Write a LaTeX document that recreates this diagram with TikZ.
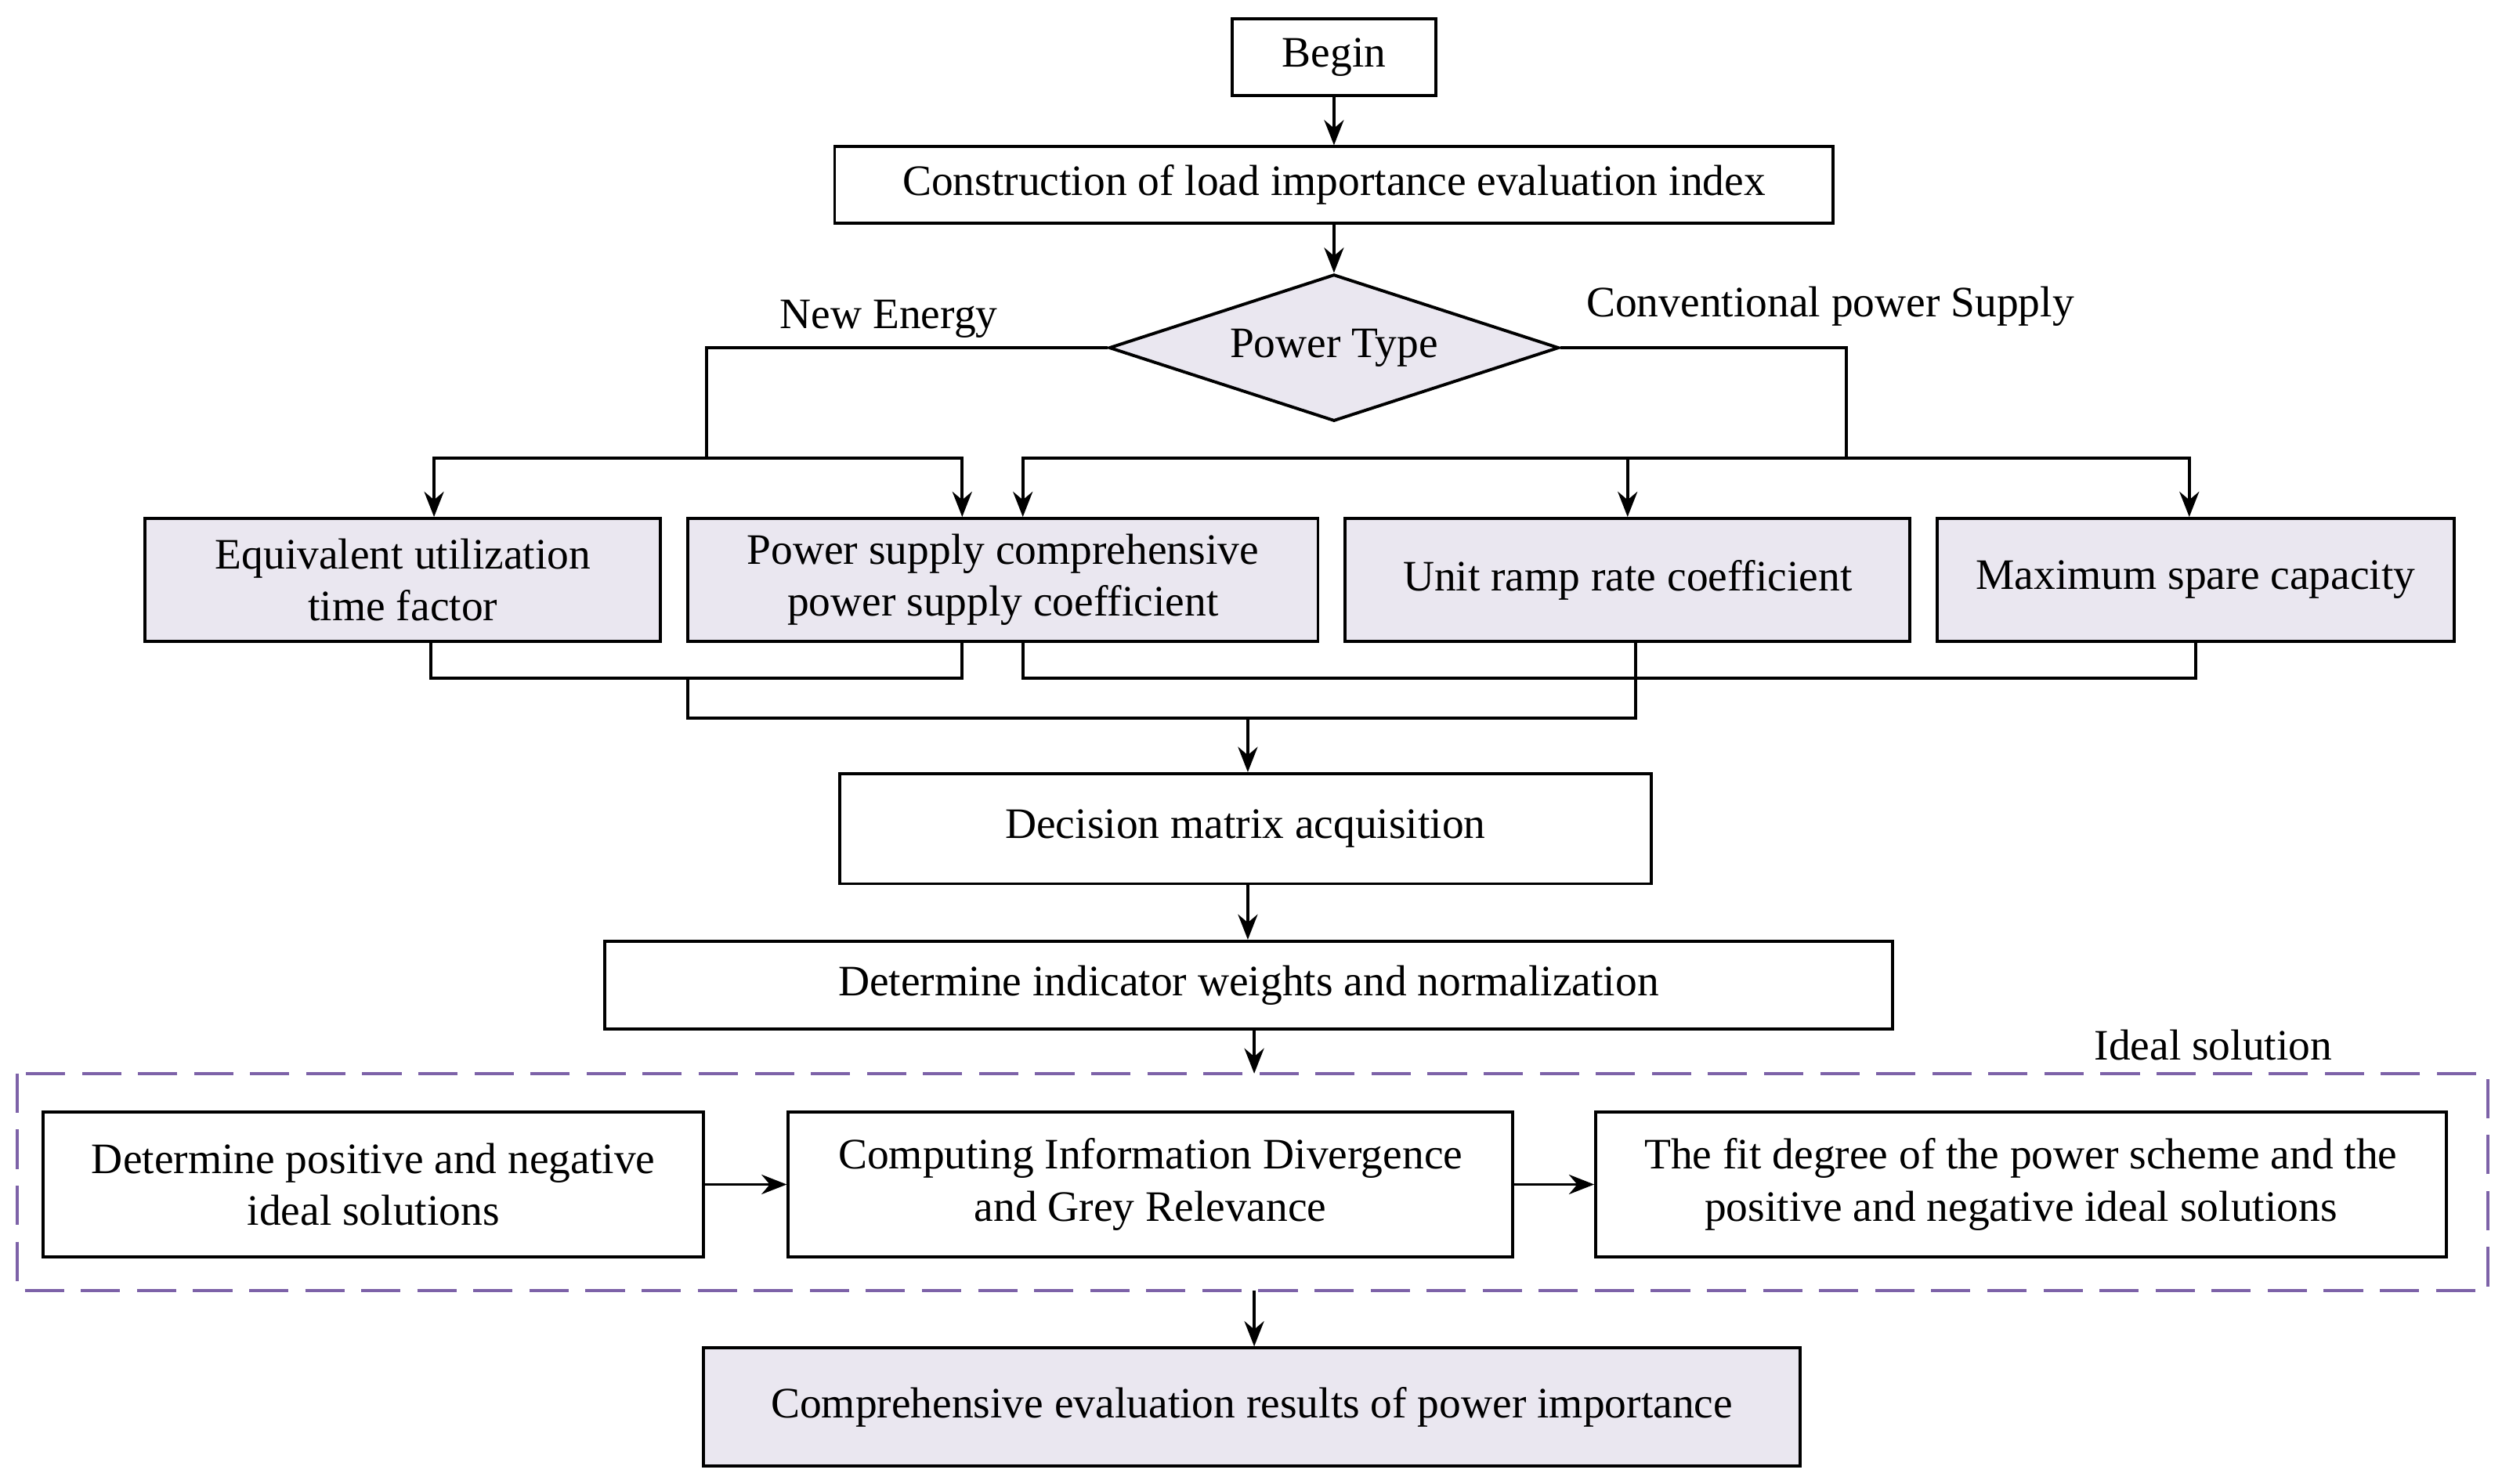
\documentclass[tikz,border=0pt]{standalone}
\usepackage{fontspec}
\setmainfont{Liberation Serif}
\usetikzlibrary{shapes.geometric,arrows.meta}
\definecolor{lav}{HTML}{EAE7F0}
\definecolor{dashpurple}{HTML}{7D62A8}

\begin{document}
\begin{tikzpicture}[x=0.02cm,y=-0.02cm,line width=1.1pt,
    box/.style={draw,inner sep=0pt,align=center,font=\fontsize{15.5}{18.5}\selectfont},
    shade/.style={box,fill=lav},
    stream/.style={-{Stealth[length=9pt,width=7pt]}},
    lbl/.style={font=\fontsize{15.5}{18.5}\selectfont}]
    \useasboundingbox (0,0) rectangle (1568,930);
    %top
    \node [box,minimum width=2.56cm,minimum height=0.96cm] (begin) at (836,36){Begin};
    \node [box,minimum width=12.52cm,minimum height=0.96cm] (build) at (836,116){Construction of load importance evaluation index};
    \node [draw,diamond,fill=lav,aspect=3.07,minimum width=5.64cm,minimum height=1.84cm,inner sep=0pt,
           font=\fontsize{15.5}{18.5}\selectfont] (type) at (836,218){Power Type};
    \node [lbl] (newlbl) at (557,200){New Energy};
    \node [lbl] (convlbl) at (1147,192){Conventional power Supply};
    \draw [stream] (begin) -- (build);
    \draw [stream] (build) -- (type);
    %indexes
    \node [shade,minimum width=6.46cm,minimum height=1.54cm] (equiv) at (252.5,363.5){Equivalent utilization\\time factor};
    \node [shade,minimum width=7.9cm,minimum height=1.54cm] (supply) at (628.5,363.5){Power supply comprehensive\\power supply coefficient};
    \node [shade,minimum width=7.08cm,minimum height=1.54cm] (ramp) at (1020,363.5){Unit ramp rate coefficient};
    \node [shade,minimum width=6.48cm,minimum height=1.54cm] (spare) at (1376,363.5){Maximum spare capacity};
    \coordinate (nl) at (443,218);
    \coordinate (nj) at (443,287);
    \coordinate (cr) at (1157,218);
    \coordinate (cj) at (1157,287);
    \draw (type.west) -- (nl) -- (nj);
    \draw [stream] (nj) -| (equiv.north -| 272,0);
    \draw [stream] (nj) -| (supply.north -| 603,0);
    \draw (type.east) -- (cr) -- (cj);
    \draw [stream] (cj) -| (supply.north -| 641,0);
    \draw [stream] (cj) -| (ramp.north);
    \draw [stream] (cj) -| (spare.north -| 1372,0);
    %merge
    \coordinate (m1) at (431,425);
    \coordinate (m2) at (782,450);
    \draw (equiv.south -| 270,0) |- (603,425) -- (supply.south -| 603,0);
    \draw (supply.south -| 641,0) |- (1376,425) -- (spare.south -| 1376,0);
    \draw (ramp.south -| 1025,0) |- (m1|-m2) -- (m1);
    %matrix
    \node [box,minimum width=10.18cm,minimum height=1.38cm] (matrix) at (780.5,519.5){Decision matrix acquisition};
    \node [box,minimum width=16.14cm,minimum height=1.1cm] (weight) at (782.5,617.5){Determine indicator weights and normalization};
    \draw [stream] (m2) -- (matrix.north -| m2);
    \draw [stream] (matrix.south -| 782,0) -- (weight.north -| 782,0);
    %ideal solution
    \draw [dashpurple,dashed,dash pattern=on 14pt off 6pt] (11,673) rectangle (1559,809);
    \node [lbl] (ideal) at (1387,655){Ideal solution};
    \coordinate (din) at (786,673);
    \coordinate (dout) at (786,809);
    \draw [stream] (weight.south -| din) -- (din);
    \node [box,minimum width=8.28cm,minimum height=1.82cm] (posneg) at (234,742.5){Determine positive and negative\\ideal solutions};
    \node [box,minimum width=9.08cm,minimum height=1.82cm] (grey) at (721,742.5){Computing Information Divergence\\and Grey Relevance};
    \node [box,minimum width=10.66cm,minimum height=1.82cm] (fit) at (1266.5,742.5){The fit degree of the power scheme and the\\positive and negative ideal solutions};
    \draw [stream] (posneg) -- (grey);
    \draw [stream] (grey) -- (fit);
    %result
    \node [shade,minimum width=13.74cm,minimum height=1.48cm] (result) at (784.5,882){Comprehensive evaluation results of power importance};
    \draw [stream] (dout) -- (result.north -| dout);
\end{tikzpicture}
\end{document}
